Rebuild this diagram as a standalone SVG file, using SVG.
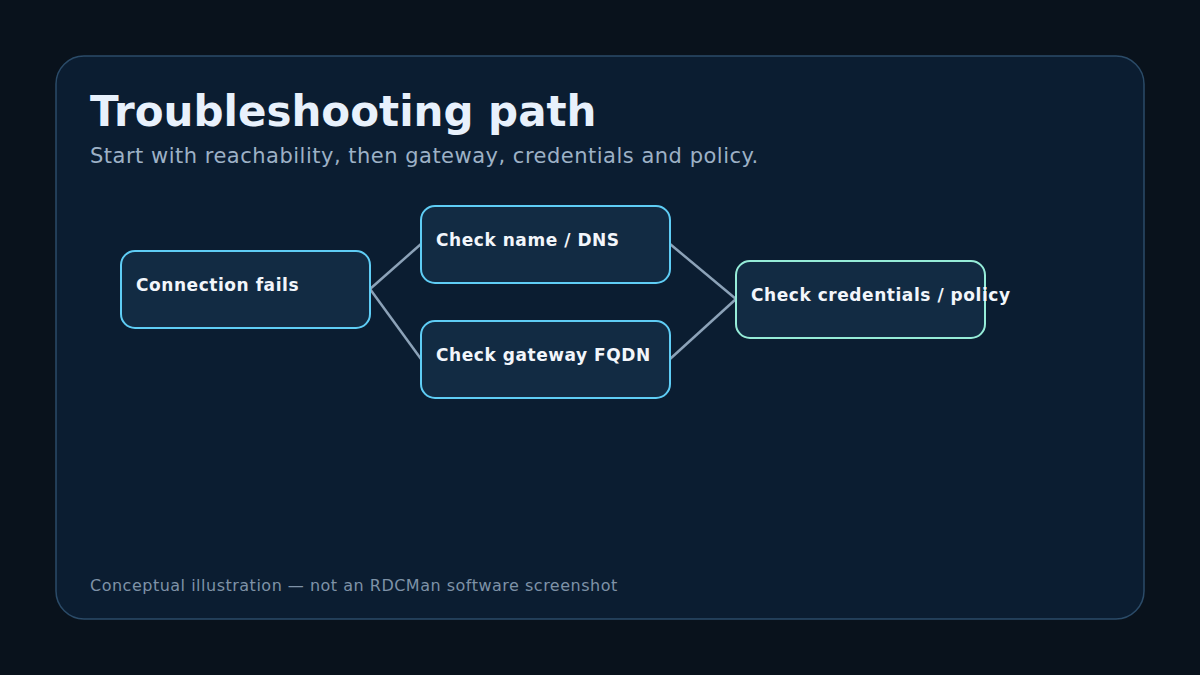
<svg xmlns="http://www.w3.org/2000/svg" width="1200" height="675" viewBox="0 0 1200 675">
<style>
.n rect{fill:#122b43;stroke:#5fcdf5;stroke-width:2}
.n text{font-family:"DejaVu Sans",sans-serif;font-size:17px;font-weight:bold;fill:#f2f6fb;letter-spacing:0.55px}
.c line{stroke:#8ca2b8;stroke-width:2.5}
</style>
<rect width="1200" height="675" fill="#09121c"/>
<rect x="56" y="56" width="1088" height="563" rx="28" fill="#0b1d31" stroke="#2b4b68" stroke-width="1.5"/>
<text x="90" y="126" font-family="DejaVu Sans,sans-serif" font-size="42" font-weight="bold" fill="#e8f1fc">Troubleshooting path</text>
<text x="90" y="163" font-family="DejaVu Sans,sans-serif" font-size="21" fill="#9db1c6" letter-spacing="0.5">Start with reachability, then gateway, credentials and policy.</text>
<g class="c">
<line x1="370" y1="289" x2="421" y2="244"/>
<line x1="370" y1="289" x2="421" y2="359"/>
<line x1="670" y1="244" x2="736" y2="299"/>
<line x1="670" y1="359" x2="736" y2="299"/>
</g>
<g id="n1" class="n"><rect x="121" y="251" width="249" height="77" rx="14"/><text x="136" y="291">Connection fails</text></g>
<g id="n2" class="n"><rect x="421" y="206" width="249" height="77" rx="14"/><text x="436" y="246">Check name / DNS</text></g>
<g id="n3" class="n"><rect x="421" y="321" width="249" height="77" rx="14"/><text x="436" y="361">Check gateway FQDN</text></g>
<g id="n4" class="n"><rect x="736" y="261" width="249" height="77" rx="14" style="stroke:#96ecd8"/><text x="751" y="301">Check credentials / policy</text></g>
<text x="90" y="591" font-family="DejaVu Sans,sans-serif" font-size="16" fill="#7e92a7" letter-spacing="0.5">Conceptual illustration — not an RDCMan software screenshot</text>
</svg>
